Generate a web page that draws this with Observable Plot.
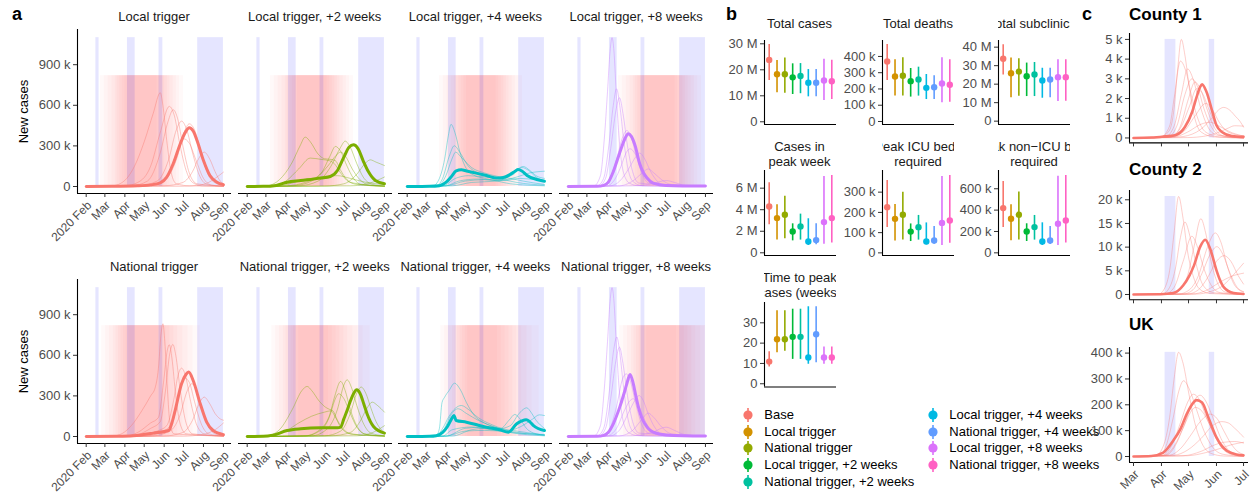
<!DOCTYPE html>
<html><head><meta charset="utf-8">
<script src="https://cdn.jsdelivr.net/npm/d3@7"></script>
<script src="https://cdn.jsdelivr.net/npm/@observablehq/plot@0.6"></script>
<style>
body{margin:0;background:#fff;font-family:'Liberation Sans',Arial,sans-serif;}
#root{position:relative;width:1259px;height:494px;overflow:hidden;background:#fff;}
.tt{position:absolute;display:flex;justify-content:center;overflow:hidden;font-size:13px;line-height:15.3px;color:#1a1a1a;}
.tt>div{flex:none;white-space:pre;text-align:center;}
.big{position:absolute;font-weight:bold;font-size:18px;line-height:22px;color:#000;white-space:pre;}
.ct{position:absolute;font-weight:bold;font-size:17px;line-height:20px;color:#000;white-space:pre;}
.lg{position:absolute;font-size:13px;line-height:15.5px;color:#000;white-space:pre;}
.yl{position:absolute;font-size:13px;line-height:15px;color:#000;width:100px;text-align:center;transform:rotate(-90deg);}
</style></head><body><div id="root"></div>
<script>
// ---------------- DATA ----------------
// Panel a: days since 2020-02-01, values in thousands of new cases
const monthTickDays = [0, 29, 60, 90, 121, 151, 182, 213];
const monthTickLabels = ["2020 Feb", "Mar", "Apr", "May", "Jun", "Jul", "Aug", "Sep"];
const holidayStart = [15, 64, 113, 173];
const holidayEnd = [20, 76, 119, 213];
const localTriggerStart = [22, 28, 34, 40, 45, 48, 52, 56, 60, 64];
const localTriggerEnd = [110, 114, 118, 122, 126, 130, 135, 140, 145, 151];
const nationalTriggerStart = [24, 30, 36, 42, 46, 50, 54, 58, 62, 66];
const nationalTriggerEnd = [112, 118, 124, 130, 136, 142, 150, 158, 166, 177];
const interventionTop = 820;
const lastDay = 213;
const delayWeeks = [0, 2, 4, 8];
const aTitles = ["Local trigger", "Local trigger, +2 weeks", "Local trigger, +4 weeks", "Local trigger, +8 weeks",
  "National trigger", "National trigger, +2 weeks", "National trigger, +4 weeks", "National trigger, +8 weeks"];
const aColors = ["#F8766D", "#7CAE00", "#00BFC4", "#C77CFF"];

const aLocal0Thick = [[0,0],[40,1],[80,5],[100,12],[115,27],[125,69],[135,168],[146,316],[154,402],[160,434],[166,410],[172,340],[182,192],[192,81],[203,32],[213,14]];
const aLocal0Thin = [
  [[0,0],[40,5],[50,15],[63,60],[75,150],[90,330],[104,540],[115,693],[119,600],[125,340],[132,100],[140,20],[160,5],[213,2]],
  [[0,0],[60,5],[80,30],[100,150],[115,400],[129,592],[137,520],[145,320],[155,120],[165,30],[180,5],[213,2]],
  [[0,0],[70,5],[95,40],[115,250],[127,480],[135,567],[142,500],[150,300],[160,100],[172,20],[213,3]],
  [[0,0],[80,4],[110,40],[128,200],[140,420],[148,483],[156,420],[165,250],[175,90],[188,15],[213,2]],
  [[0,0],[90,4],[120,40],[140,200],[152,400],[160,463],[168,420],[178,250],[190,80],[203,20],[213,8]],
  [[0,0],[90,3],[120,40],[137,200],[151,353],[160,320],[170,200],[182,60],[195,10],[213,2]],
  [[0,0],[120,5],[150,30],[165,110],[175,210],[183,254],[192,200],[200,110],[208,40],[213,20]],
  [[0,0],[150,2],[175,10],[190,30],[200,60],[213,106]]
];
const aLocal2Thick = [[0,0],[25,1],[45,8],[62,32],[83,44],[114,62],[129,74],[140,118],[150,217],[158,290],[165,308],[172,280],[180,190],[188,110],[199,44],[213,20]];
const aLocal2Thin = [
  [[0,0],[30,5],[50,50],[70,180],[82,300],[90,365],[98,330],[110,240],[120,205],[130,200],[137,190],[145,120],[155,50],[170,15],[213,3]],
  [[0,0],[40,5],[60,40],[80,130],[98,210],[115,200],[128,190],[135,170],[145,100],[160,30],[213,3]],
  [[0,0],[60,5],[90,30],[115,100],[128,220],[137,296],[145,260],[155,150],[165,60],[180,10],[213,2]],
  [[0,0],[80,5],[110,40],[130,150],[145,290],[152,335],[160,290],[170,170],[180,70],[195,15],[213,3]],
  [[0,0],[70,5],[100,40],[125,150],[138,230],[145,254],[153,220],[163,130],[175,50],[190,10],[213,2]],
  [[0,0],[120,3],[150,20],[170,90],[183,170],[191,197],[200,180],[213,155]],
  [[0,0],[160,5],[190,25],[213,70]],
  [[0,0],[50,5],[80,40],[110,70],[140,80],[160,60],[185,30],[213,15]]
];
const aLocal4Thick = [[0,0],[35,1],[50,5],[60,30],[68,70],[76,115],[84,123],[92,115],[107,99],[123,81],[139,62],[149,66],[160,90],[168,115],[172,126],[178,115],[186,82],[201,52],[213,39]];
const aLocal4Thin = [
  [[0,0],[40,5],[50,60],[58,200],[64,380],[68,459],[74,400],[82,250],[92,130],[105,80],[120,60],[140,40],[160,20],[213,5]],
  [[0,0],[45,5],[55,60],[65,220],[73,301],[82,250],[95,150],[110,100],[130,70],[150,50],[170,30],[213,10]],
  [[0,0],[48,5],[60,80],[70,210],[75,254],[85,210],[100,140],[120,100],[140,75],[160,60],[180,40],[213,15]],
  [[0,0],[60,5],[80,40],[110,55],[140,45],[160,80],[172,130],[180,148],[190,120],[200,80],[213,60]],
  [[0,0],[70,5],[100,30],[140,40],[170,70],[190,100],[213,113]],
  [[0,0],[60,5],[90,40],[120,50],[150,45],[175,60],[200,50],[213,45]],
  [[0,0],[55,5],[75,60],[95,80],[120,70],[145,60],[165,90],[178,140],[188,120],[200,70],[213,40]]
];
const aLocal8Thick = [[0,0],[45,1],[55,8],[62,30],[70,110],[80,250],[88,353],[93,390],[98,370],[104,300],[111,168],[117,100],[122,65],[132,25],[152,8],[213,3]];
const aLocal8Thin = [
  [[0,0],[40,5],[50,80],[56,350],[61,700],[65,1000],[68,1100],[71,1000],[75,650],[80,300],[86,100],[95,25],[110,5],[213,0]],
  [[0,0],[45,5],[55,60],[63,300],[70,600],[75,722],[80,600],[86,350],[92,150],[100,40],[115,5],[213,0]],
  [[0,0],[48,5],[58,60],[66,280],[74,560],[79.6,656],[85,540],[92,300],[100,110],[110,25],[213,0]],
  [[0,0],[55,5],[65,60],[75,200],[85,370],[91,414],[98,360],[106,220],[115,90],[125,25],[213,0]],
  [[0,0],[60,5],[72,50],[82,150],[90,250],[96,279],[104,240],[112,150],[122,60],[135,15],[213,0]],
  [[0,0],[65,5],[80,40],[95,140],[105,220],[111,247],[118,210],[128,110],[138,40],[150,10],[213,0]],
  [[0,0],[80,5],[100,40],[115,100],[124,130],[133,100],[145,50],[160,15],[213,2]],
  [[0,0],[100,5],[130,20],[152,44],[165,30],[180,10],[213,2]]
];
const aNat0Thick = [[0,0],[50,2],[73,6],[104,25],[128,44],[133,100],[138,192],[148,390],[155,460],[159,476],[166,414],[177,242],[187,106],[197,44],[213,14]];
const aNat0Thin = [
  [[0,0],[40,3],[55,20],[70,80],[85,180],[100,300],[107,360],[112,500],[116,750],[119,833],[122,700],[126,350],[130,100],[136,20],[213,3]],
  [[0,0],[60,3],[80,30],[100,100],[112,140],[120,400],[126,640],[129,678],[133,580],[139,300],[146,90],[155,20],[213,3]],
  [[0,0],[70,3],[100,60],[115,110],[122,300],[130,620],[134.5,680],[139,600],[146,340],[155,100],[165,20],[213,3]],
  [[0,0],[80,3],[110,40],[125,80],[135,250],[143,460],[148,505],[154,450],[162,260],[172,80],[185,15],[213,2]],
  [[0,0],[90,3],[120,40],[135,120],[145,330],[153,431],[160,400],[168,260],[178,100],[190,20],[213,3]],
  [[0,0],[100,3],[130,40],[145,150],[157,340],[164,390],[171,340],[180,200],[190,70],[202,15],[213,5]],
  [[0,0],[120,3],[150,30],[165,120],[176,250],[183,291],[192,240],[200,170],[208,130],[213,120]],
  [[0,0],[150,2],[180,15],[200,50],[213,100]]
];
const aNat2Thick = [[0,0],[25,1],[40,10],[62,44],[83,57],[114,64],[140,64],[145,69],[150,130],[155,192],[160,260],[165,316],[170,345],[175,320],[181,240],[186,168],[196,74],[213,25]];
const aNat2Thin = [
  [[0,0],[30,5],[50,50],[70,200],[85,340],[93,370],[100,340],[112,260],[122,215],[128,200],[133,190],[140,120],[150,50],[165,15],[213,3]],
  [[0,0],[40,5],[60,40],[80,100],[100,150],[120,180],[130,190],[136,150],[145,70],[160,20],[213,3]],
  [[0,0],[90,5],[115,60],[128,160],[136,300],[145,407],[152,340],[160,200],[170,80],[182,20],[213,3]],
  [[0,0],[100,5],[125,60],[140,200],[150,380],[155,419],[162,360],[170,230],[180,100],[192,25],[213,5]],
  [[0,0],[90,5],[115,50],[128,150],[136,270],[142,316],[150,280],[160,170],[170,70],[185,15],[213,3]],
  [[0,0],[120,5],[145,40],[160,170],[170,320],[177,365],[184,320],[192,210],[200,110],[208,50],[213,30]],
  [[0,0],[130,5],[160,30],[175,110],[186,210],[194,254],[202,230],[213,180]],
  [[0,0],[170,5],[195,30],[213,80]]
];
const aNat4Thick = [[0,0],[35,1],[45,5],[55,30],[62,70],[68,123],[72.5,155],[76,118],[92,106],[118,74],[144,49],[157,32],[170,94],[178,115],[184.6,123],[190,110],[196,81],[213,44]];
const aNat4Thin = [
  [[0,0],[45,5],[50,60],[54,250],[58,290],[65,340],[73.5,394],[82,350],[92,250],[105,150],[120,100],[140,60],[160,30],[213,5]],
  [[0,0],[45,3],[55,60],[65,150],[75,210],[84,229],[95,200],[110,140],[130,90],[150,55],[170,40],[213,10]],
  [[0,0],[48,3],[58,60],[68,160],[79,205],[92,170],[110,120],[130,80],[150,50],[213,10]],
  [[0,0],[70,3],[100,50],[120,60],[140,55],[160,80],[172,160],[180,200],[185.6,212],[192,180],[200,120],[213,60]],
  [[0,0],[60,3],[90,60],[120,70],[145,60],[158,120],[167,163],[175,130],[185,60],[200,20],[213,10]],
  [[0,0],[60,3],[90,40],[120,45],[150,40],[175,70],[195,130],[205,160],[213,155]],
  [[0,0],[55,3],[70,50],[100,70],[130,50],[160,30],[190,20],[213,15]]
];
const aNat8Thick = [[0,0],[45,1],[55,8],[62,30],[70,94],[80,217],[88,340],[91,390],[96,459],[101,390],[105,300],[109,217],[114,140],[119,94],[125,55],[132,32],[152,12],[213,3]];
const aNat8Thin = [
  [[0,0],[40,5],[50,80],[56,350],[61,700],[65,1000],[68,1100],[71,1000],[75,650],[80,300],[86,100],[95,25],[110,5],[213,0]],
  [[0,0],[45,5],[55,60],[63,300],[70,620],[75.5,735],[80,620],[86,360],[92,150],[100,40],[115,5],[213,0]],
  [[0,0],[48,5],[58,60],[66,280],[74,560],[79.6,660],[85,540],[92,300],[100,110],[110,25],[213,0]],
  [[0,0],[55,5],[65,60],[75,220],[84,420],[90,463],[97,400],[105,240],[114,90],[125,25],[213,0]],
  [[0,0],[65,5],[80,50],[95,190],[104,270],[110,303],[116,270],[124,170],[134,70],[145,20],[213,0]],
  [[0,0],[60,5],[75,60],[88,200],[96,265],[101,279],[108,240],[116,150],[126,60],[138,15],[213,0]],
  [[0,0],[80,5],[100,45],[115,130],[124,173],[133,140],[145,70],[160,20],[213,2]],
  [[0,0],[100,5],[130,30],[152,69],[165,45],[180,15],[213,2]]
];

// Panel b
const scenarios = ["Base", "Local trigger", "National trigger", "Local trigger, +2 weeks", "National trigger, +2 weeks",
  "Local trigger, +4 weeks", "National trigger, +4 weeks", "Local trigger, +8 weeks", "National trigger, +8 weeks"];
const scenarioColors = ["#F8766D", "#D39200", "#93AA00", "#00BA38", "#00C19F", "#00B9E3", "#619CFF", "#DB72FB", "#FF61C3"];
const totalCasesMed = [23.8, 18.3, 18.3, 17.1, 17.6, 15.0, 15.0, 15.9, 15.6];
const totalCasesLo = [15.9, 11.2, 11.0, 10.5, 10.8, 9.6, 9.6, 8.2, 8.6];
const totalCasesHi = [29.7, 23.6, 24.5, 22.3, 22.4, 20.1, 20.1, 24.1, 23.7];
const totalDeathsMed = [369, 277, 281, 248, 258, 207, 211, 234, 226];
const totalDeathsLo = [252, 156, 156, 150, 156, 135, 135, 115, 119];
const totalDeathsHi = [474, 380, 392, 326, 334, 289, 281, 392, 380];
const subclinMed = [33.7, 25.9, 26.8, 24.3, 25.2, 22.0, 22.5, 23.8, 23.8];
const subclinLo = [25.0, 12.6, 13.5, 13.3, 13.3, 12.4, 12.6, 10.6, 10.8];
const subclinHi = [41.3, 34.2, 33.7, 31.4, 31.7, 28.6, 28.6, 33.2, 33.2];
const peakWeekMed = [4.30, 3.22, 3.53, 1.98, 2.45, 1.05, 1.18, 2.85, 3.22];
const peakWeekLo = [2.6, 1.18, 1.3, 1.11, 1.18, 0.68, 0.74, 0.8, 0.9];
const peakWeekHi = [6.5, 4.46, 5.26, 2.69, 3.59, 3.16, 2.69, 7.09, 7.18];
const icuMed = [226, 168, 188, 105, 127, 56, 61, 148, 160];
const icuLo = [125, 59, 63, 56, 63, 40, 43, 36, 48];
const icuHi = [357, 239, 300, 143, 185, 148, 130, 377, 382];
const nonIcuMed = [419, 319, 356, 200, 241, 106, 116, 272, 303];
const nonIcuLo = [238, 113, 119, 106, 119, 69, 78, 69, 91];
const nonIcuHi = [669, 450, 569, 272, 350, 281, 247, 716, 725];
const timePeakMed = [10.9, 21.9, 21.9, 23.1, 23.1, 12.9, 24.4, 12.9, 12.9];
const timePeakLo = [8.2, 15.3, 16.0, 12.0, 12.0, 9.6, 10.4, 9.6, 9.6];
const timePeakHi = [15.8, 35.9, 35.9, 36.7, 36.7, 37.9, 37.9, 18.1, 18.1];

// Panel c: days since 2020-03-01
const cTickDays = [0, 31, 61, 92, 122];
const cTickLabels = ["Mar", "Apr", "May", "Jun", "Jul"];
const cTitles = ["County 1", "County 2", "UK"];
const county1Thick = [[0,0],[20,0.02],[35,0.08],[46,0.14],[57,0.56],[65,1.32],[70,2.08],[74,2.6],[76,2.72],[81,2.33],[87,1.4],[92,0.64],[98,0.3],[109,0.1],[122,0.06]];
const county1Thin = [
  [[0,0],[30,0.05],[40,0.4],[45,1.5],[49,3.5],[53,5.0],[57,4.2],[62,2.5],[68,1.0],[75,0.3],[90,0.05],[122,0]],
  [[0,0],[30,0.05],[40,0.6],[45,2.0],[52,3.9],[58,3.4],[65,2.0],[72,0.9],[80,0.3],[95,0.05],[122,0]],
  [[0,0],[35,0.05],[45,0.6],[53,2.2],[60,3.5],[66,3.0],[74,1.6],[82,0.6],[92,0.15],[122,0]],
  [[0,0],[38,0.05],[48,0.6],[57,2.2],[64.7,3.0],[71,2.6],[78,1.5],[86,0.6],[95,0.15],[122,0]],
  [[0,0],[42,0.05],[52,0.6],[61,2.0],[68,2.84],[74,2.5],[82,1.4],[90,0.5],[100,0.1],[122,0]],
  [[0,0],[40,0.05],[52,0.5],[62,1.6],[70,2.5],[76,2.3],[84,1.4],[92,0.6],[102,0.15],[122,0]],
  [[0,0],[40,0.05],[55,0.3],[68,1.1],[80,1.75],[88,1.4],[95,0.8],[105,0.3],[122,0.1]],
  [[0,0],[50,0.05],[70,0.3],[85,0.9],[95,1.45],[100,1.55],[107,1.4],[113,1.1],[118,0.85],[122,0.55]],
  [[0,0],[60,0.02],[80,0.1],[95,0.3],[105,0.5],[112,0.62],[122,0.6]],
  [[0,0],[45,0.05],[60,0.3],[75,0.7],[85,0.8],[95,0.6],[110,0.25],[122,0.1]]
];
const county2Thick = [[0,0],[30,0.05],[44,0.3],[55,1.9],[62,4.0],[67,6.1],[74,10.1],[79.5,11.55],[85,9.65],[92,5.1],[96,3.0],[100,1.55],[111,0.3],[122,0.1]];
const county2Thin = [
  [[0,0],[28,0.1],[35,1.5],[40,5],[45,13],[50,20.7],[55,16],[60,9],[66,4],[73,1.2],[85,0.2],[122,0]],
  [[0,0],[32,0.1],[40,1.5],[47,6],[52,12],[57,15.3],[63,12],[70,6],[77,2],[88,0.4],[122,0]],
  [[0,0],[35,0.1],[45,1.5],[55,7],[64.7,12.3],[71,10],[78,5.5],[86,2],[96,0.4],[122,0]],
  [[0,0],[42,0.1],[52,1],[60,4],[67,10],[74.7,16],[80,13],[86,7],[93,2.5],[102,0.5],[122,0]],
  [[0,0],[50,0.1],[62,1],[72,4],[82,10],[90.6,13],[97,11],[104,6],[112,2],[122,0.5]],
  [[0,0],[55,0.1],[66,1],[76,4.5],[85,8.5],[92.4,10.1],[99,8.5],[107,4.5],[115,1.5],[122,0.6]],
  [[0,0],[60,0.1],[72,1],[82,3.5],[92,7],[100.5,8.2],[108,7],[116,4],[122,2.2]],
  [[0,0],[70,0.1],[85,0.6],[100,2],[110,4],[122,6.6]],
  [[0,0],[65,0.1],[80,0.8],[95,2.5],[108,3.8],[122,4.5]]
];
const ukThick = [[0,0],[20,2],[33,15],[44,61],[52,106],[59,164],[66.5,209],[70,218],[76,209],[83,151],[92,74],[97,45],[103.5,22],[114,8],[122,5]];
const ukThin = [
  [[0,0],[25,5],[33,40],[40,150],[45,300],[50,403],[55,360],[61,250],[68,130],[76,50],[86,12],[100,2],[122,0]],
  [[0,0],[28,5],[36,40],[44,150],[50,250],[55.5,293],[62,260],[70,180],[78,100],[88,35],[100,8],[122,1]],
  [[0,0],[32,5],[42,40],[52,130],[60,210],[66.5,241],[73,220],[80,160],[90,80],[100,25],[112,5],[122,1]],
  [[0,0],[36,5],[46,40],[56,120],[66,210],[74,237],[80,215],[88,150],[97,70],[107,20],[122,3]],
  [[0,0],[34,5],[45,40],[55,110],[63,170],[68.4,190],[76,175],[85,120],[95,55],[106,15],[122,2]],
  [[0,0],[40,5],[52,30],[63,80],[74,135],[85,164],[93,145],[100,100],[108,50],[116,18],[122,8]],
  [[0,0],[45,5],[60,25],[75,70],[88,120],[98,135],[105,130],[112,110],[118,90],[122,75]],
  [[0,0],[60,3],[80,15],[95,30],[108,45],[122,55]],
  [[0,0],[55,3],[75,20],[90,45],[100,55],[112,58],[122,52]]
];

// ---------------- DRAWING ----------------
const FONT = "'Liberation Sans', Arial, sans-serif";
const root = document.getElementById("root");
function put(el, left, top) {
  el.style.position = "absolute"; el.style.left = left + "px"; el.style.top = top + "px";
  root.appendChild(el); return el;
}
function plotAt(fx, fy, fw, fh, m, opts) {
  const svg = Plot.plot(Object.assign({
    width: fw + m[1] + m[3], height: fh + m[0] + m[2],
    marginTop: m[0], marginRight: m[1], marginBottom: m[2], marginLeft: m[3],
    style: {fontFamily: FONT, fontSize: "13px", background: "transparent", overflow: "visible", maxWidth: "none"}
  }, opts));
  put(svg, fx - m[3], fy - m[0]);
}
function titleBox(lines, left, top, width) {
  const d = document.createElement("div");
  d.className = "tt"; d.style.width = width + "px"; d.style.height = (lines.length * 15.3 + 2) + "px";
  const inner = document.createElement("div");
  inner.textContent = lines.join("\n");
  d.appendChild(inner);
  put(d, left, top);
}
function textDiv(cls, text, left, top) {
  const d = document.createElement("div");
  d.className = cls; d.textContent = text;
  return put(d, left, top);
}
const runsToRows = runs => runs.flatMap((r, i) => r.map(p => ({run: i, d: p[0], v: p[1]})));
const kFmt = d => d === 0 ? "0" : d + " k";
const axisStyle = {tickSize: 4, tickPadding: 3, stroke: "#333", fill: "#4D4D4D", label: null};
const rotatedX = {tickRotate: -45, textAnchor: "end", lineAnchor: "top", tickPadding: 2.5, fontSize: 12};

// ---- panel a ----
const aThick = [aLocal0Thick, aLocal2Thick, aLocal4Thick, aLocal8Thick, aNat0Thick, aNat2Thick, aNat4Thick, aNat8Thick];
const aThin = [aLocal0Thin, aLocal2Thin, aLocal4Thin, aLocal8Thin, aNat0Thin, aNat2Thin, aNat4Thin, aNat8Thin];
const aBandTop = d3.max([...aThick, ...aThin.flat()].flat(), p => p[1]);
const holidays = holidayStart.map((s, i) => ({s, e: holidayEnd[i]}));
const monthLabelByDay = new Map(monthTickDays.map((d, i) => [d, monthTickLabels[i]]));
const aXDom = [-13.5, 225.5], aYDom = [-51.7, 1160];
const aX0 = [77, 237.7, 398.4, 559.1], aW = 154;
const aY0 = [29, 279], aH = 164;

aTitles.forEach((title, i) => {
  const row = i < 4 ? 0 : 1, col = i % 4;
  const starts = row === 0 ? localTriggerStart : nationalTriggerStart;
  const ends = row === 0 ? localTriggerEnd : nationalTriggerEnd;
  const shift = delayWeeks[col] * 7;
  const iv = starts.map((s, j) => ({x1: s + shift, x2: Math.min(ends[j] + shift, lastDay)}));
  const color = aColors[col];
  const marks = [
    Plot.rect(iv, {x1: "x1", x2: "x2", y1: 0, y2: interventionTop, fill: "#FF0000", fillOpacity: 0.024}),
    Plot.rect(holidays, {x1: "s", x2: "e", y1: 0, y2: aBandTop, fill: "#0000FF", fillOpacity: 0.1}),
    Plot.line(runsToRows(aThin[i]), {x: "d", y: "v", z: "run", stroke: color, strokeOpacity: 0.45, strokeWidth: 0.9, curve: "monotone-x"}),
    Plot.line(aThick[i], {x: p => p[0], y: p => p[1], stroke: color, strokeWidth: 3, curve: "monotone-x"}),
    Plot.ruleY([aYDom[0]], {stroke: "#000", strokeWidth: 1.1}),
    Plot.axisX({...axisStyle, ...rotatedX, ticks: monthTickDays, tickFormat: d => monthLabelByDay.get(d)})
  ];
  if (col === 0) {
    marks.push(Plot.ruleX([aXDom[0]], {stroke: "#000", strokeWidth: 1.1}));
    marks.push(Plot.axisY({...axisStyle, ticks: [0, 300, 600, 900], tickFormat: kFmt}));
  }
  plotAt(aX0[col], aY0[row], aW, aH, [2, 4, 50, col === 0 ? 60 : 40], {
    x: {domain: aXDom}, y: {domain: aYDom, axis: null}, marks
  });
  titleBox([title], aX0[col] - 20, aY0[row] - 20, aW + 40);
});
textDiv("yl", "New cases", 23 - 50, 111 - 7.5);
textDiv("yl", "New cases", 23 - 50, 361 - 7.5);
textDiv("big", "a", 12, 3);

// ---- panel b ----
const colorScale = {domain: scenarios, range: scenarioColors};
const bPanels = [
  {lines: ["Total cases"], med: totalCasesMed, lo: totalCasesLo, hi: totalCasesHi, col: 0, row: 0, dom: [-1.04, 31.27], ticks: [0, 10, 20, 30], unit: "M"},
  {lines: ["Total deaths"], med: totalDeathsMed, lo: totalDeathsLo, hi: totalDeathsHi, col: 1, row: 0, dom: [-18.5, 498], ticks: [0, 100, 200, 300, 400], unit: "k"},
  {lines: ["Total subclinical"], med: subclinMed, lo: subclinLo, hi: subclinHi, col: 2, row: 0, dom: [-1.8, 43.6], ticks: [0, 10, 20, 30, 40], unit: "M"},
  {lines: ["Cases in", "peak week"], med: peakWeekMed, lo: peakWeekLo, hi: peakWeekHi, col: 0, row: 1, dom: [-0.25, 7.64], ticks: [0, 2, 4, 6], unit: "M"},
  {lines: ["Peak ICU beds", "required"], med: icuMed, lo: icuLo, hi: icuHi, col: 1, row: 1, dom: [-13, 407], ticks: [0, 100, 200, 300], unit: "k"},
  {lines: ["Peak non\u2212ICU beds", "required"], med: nonIcuMed, lo: nonIcuLo, hi: nonIcuHi, col: 2, row: 1, dom: [-25, 771], ticks: [0, 200, 400, 600], unit: "k"},
  {lines: ["Time to peak", "cases (weeks)"], med: timePeakMed, lo: timePeakLo, hi: timePeakHi, col: 0, row: 2, dom: [-1.6, 40.0], ticks: [0, 10, 20, 30], unit: ""}
];
const bColX = [763.5, 882, 998], bW = 72;
const bRowY = [[40, 124], [170, 255], [301.7, 386.2]];
const bTitleTop = [16.3, 139, 269.5];
const bXDom = [0.4, 9.6];
bPanels.forEach(p => {
  const rows = scenarios.map((s, i) => ({s, i: i + 1, med: p.med[i], lo: p.lo[i], hi: p.hi[i]}));
  const [y0, y1] = bRowY[p.row];
  plotAt(bColX[p.col], y0, bW, y1 - y0, [2, 2, 2, 45], {
    x: {domain: bXDom, axis: null}, y: {domain: p.dom, axis: null}, color: colorScale,
    marks: [
      Plot.ruleX(rows, {x: "i", y1: "lo", y2: "hi", stroke: "s", strokeWidth: 1.6}),
      Plot.dot(rows, {x: "i", y: "med", fill: "s", r: 3.2}),
      Plot.ruleY([p.dom[0]], {stroke: "#000", strokeWidth: 1.1}),
      Plot.ruleX([bXDom[0]], {stroke: "#000", strokeWidth: 1.1}),
      Plot.axisY({...axisStyle, ticks: p.ticks, tickFormat: d => d === 0 ? "0" : (p.unit ? d + " " + p.unit : String(d))})
    ]
  });
  titleBox(p.lines, bColX[p.col], bTitleTop[p.row], bW);
});
textDiv("big", "b", 726, 3);

// legend
const legX = [748.3, 933.3], legY = [415, 431.7, 448.3, 465, 481.7];
scenarios.forEach((s, i) => {
  const col = i < 5 ? 0 : 1, row = i < 5 ? i : i - 5;
  const svg = d3.create("svg").attr("width", 14).attr("height", 16);
  svg.append("line").attr("x1", 7).attr("x2", 7).attr("y1", 1).attr("y2", 15).attr("stroke", scenarioColors[i]).attr("stroke-width", 1.6);
  svg.append("circle").attr("cx", 7).attr("cy", 8).attr("r", 4.6).attr("fill", scenarioColors[i]);
  put(svg.node(), legX[col] - 7, legY[row] - 8);
  textDiv("lg", s, legX[col] + 16, legY[row] - 7.9);
});

// ---- panel c ----
const cLabelByDay = new Map(cTickDays.map((d, i) => [d, cTickLabels[i]]));
const cXDom = [-4.44, 127.5];
const cFrames = [
  {thick: county1Thick, thin: county1Thin, y: 33.3, h: 109.4, dom: [-0.25, 5.30], ticks: [0, 1, 2, 3, 4, 5], titleTop: 5},
  {thick: county2Thick, thin: county2Thin, y: 190, h: 109.3, dom: [-1.12, 21.96], ticks: [0, 5, 10, 15, 20], titleTop: 160},
  {thick: ukThick, thin: ukThin, y: 346.7, h: 115, dom: [-23.2, 421.7], ticks: [0, 100, 200, 300, 400], titleTop: 315}
];
const cHolidays = holidays.map(h => ({s: h.s - monthTickDays[1], e: h.e - monthTickDays[1]}))
  .filter(h => h.s >= 0 && h.e <= cTickDays[cTickDays.length - 1]);
cFrames.forEach((f, i) => {
  const top = d3.max([f.thick, ...f.thin].flat(), p => p[1]);
  const isLast = i === cFrames.length - 1;
  const xAxis = isLast
    ? Plot.axisX({...axisStyle, ...rotatedX, ticks: cTickDays, tickFormat: d => cLabelByDay.get(d)})
    : Plot.axisX({...axisStyle, ticks: cTickDays, tickFormat: () => ""});
  plotAt(1129.3, f.y, 119, f.h, [2, 4, 30, 50], {
    x: {domain: cXDom}, y: {domain: f.dom, axis: null},
    marks: [
      Plot.rect(cHolidays, {x1: "s", x2: "e", y1: 0, y2: top, fill: "#0000FF", fillOpacity: 0.1}),
      Plot.line(runsToRows(f.thin), {x: "d", y: "v", z: "run", stroke: "#F8766D", strokeOpacity: 0.4, strokeWidth: 0.9, curve: "monotone-x"}),
      Plot.line(f.thick, {x: p => p[0], y: p => p[1], stroke: "#F8766D", strokeWidth: 2.6, curve: "monotone-x"}),
      Plot.ruleY([f.dom[0]], {stroke: "#000", strokeWidth: 1.1}),
      Plot.ruleX([cXDom[0]], {stroke: "#000", strokeWidth: 1.1}),
      Plot.axisY({...axisStyle, ticks: f.ticks, tickFormat: kFmt}),
      xAxis
    ]
  });
  textDiv("ct", cTitles[i], 1129, f.titleTop);
});
textDiv("big", "c", 1082, 3);
</script></body></html>
